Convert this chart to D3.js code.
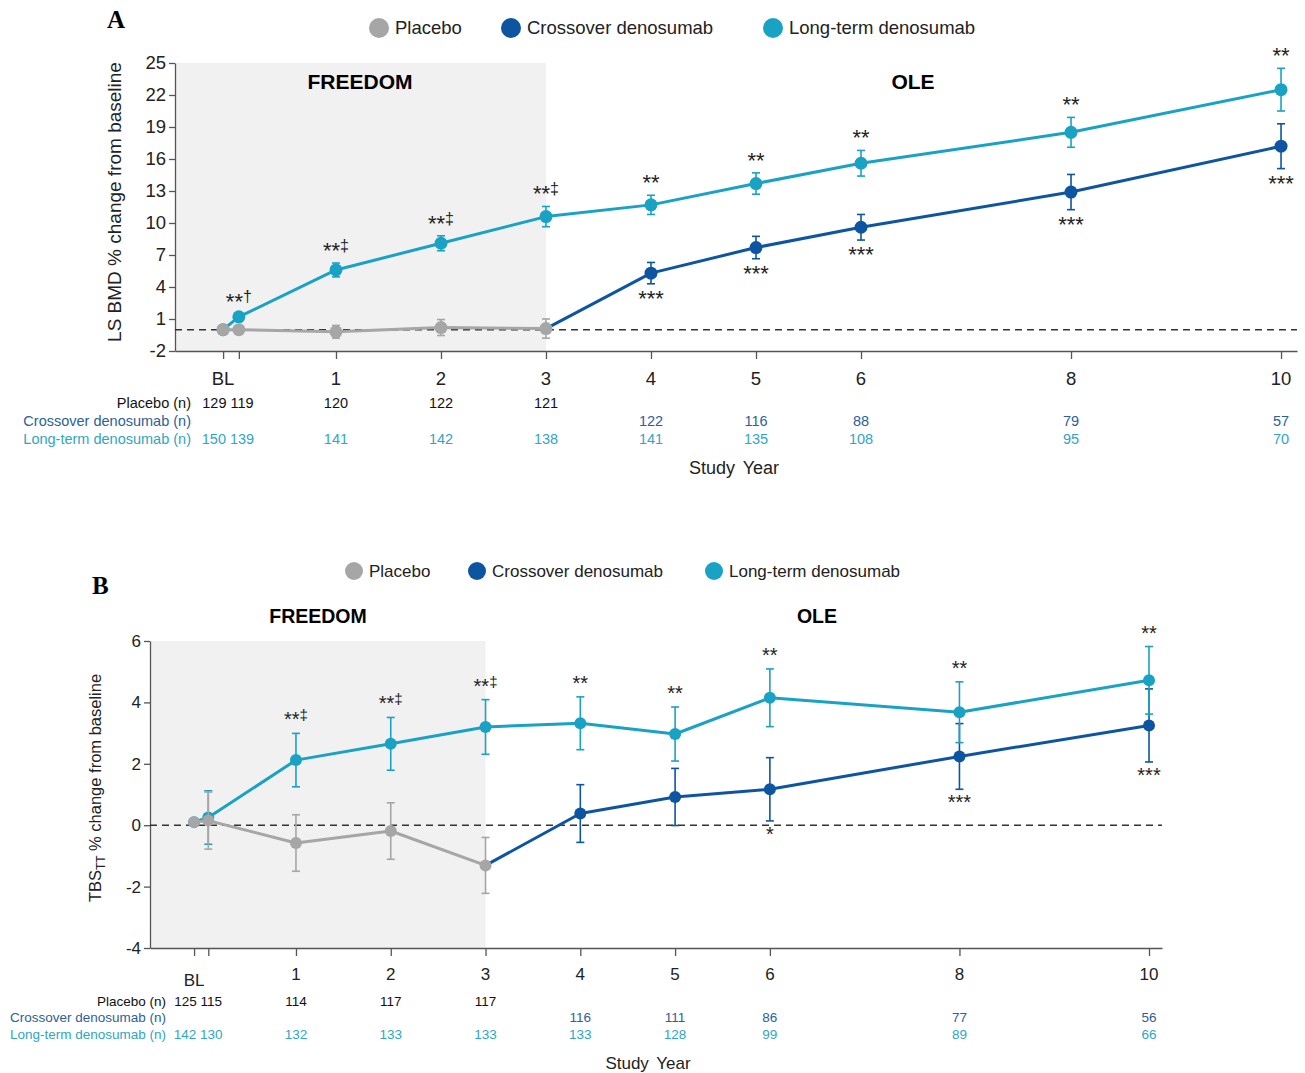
<!DOCTYPE html>
<html><head><meta charset="utf-8">
<script src="https://cdn.jsdelivr.net/npm/d3@7"></script>
<style>body{margin:0;background:#fff;} svg{display:block;font-family:"Liberation Sans",Arial,sans-serif;}</style>
</head><body><svg id="c" width="1305" height="1073"></svg>
<script>
// ---------- shared ----------
const seriesNames = ["Placebo", "Crossover denosumab", "Long-term denosumab"];
const studyYear = [-0.075, 0.075, 1, 2, 3, 4, 5, 6, 8, 10];
const tickLabels = ["BL", "", "1", "2", "3", "4", "5", "6", "8", "10"];
const rowLabels = ["Placebo (n)", "Crossover denosumab (n)", "Long-term denosumab (n)"];

// ---------- Panel A: LS BMD ----------
const yTicksA = [-2, 1, 4, 7, 10, 13, 16, 19, 22, 25];
const placeboMeanA = [0, 0, -0.2, 0.2, 0.1, null, null, null, null, null];
const placeboErrA  = [0, 0.2, 0.6, 0.75, 0.9, null, null, null, null, null];
const crossMeanA   = [null, null, null, null, null, 5.3, 7.7, 9.6, 12.9, 17.2];
const crossErrA    = [null, null, null, null, null, 1.0, 1.05, 1.2, 1.65, 2.1];
const longMeanA    = [0, 1.2, 5.6, 8.1, 10.6, 11.7, 13.7, 15.6, 18.5, 22.5];
const longErrA     = [0, 0.3, 0.65, 0.7, 0.95, 0.9, 1.0, 1.2, 1.4, 2.0];
const longSigA     = ["", "**†", "**‡", "**‡", "**‡", "**", "**", "**", "**", "**"];
const crossSigA    = ["", "", "", "", "", "***", "***", "***", "***", "***"];
const placeboNA    = ["129 119", "", "120", "122", "121", "", "", "", "", ""];
const crossNA      = ["", "", "", "", "", "122", "116", "88", "79", "57"];
const longNA       = ["150 139", "", "141", "142", "138", "141", "135", "108", "95", "70"];

// ---------- Panel B: TBS ----------
const yTicksB = [-4, -2, 0, 2, 4, 6];
const placeboMeanB = [0.1, 0.15, -0.58, -0.19, -1.31, null, null, null, null, null];
const placeboErrB  = [0, 0.93, 0.92, 0.92, 0.91, null, null, null, null, null];
const crossMeanB   = [null, null, null, null, null, 0.38, 0.92, 1.17, 2.24, 3.25];
const crossErrB    = [null, null, null, null, null, 0.94, 0.93, 1.03, 1.07, 1.19];
const longMeanB    = [0.1, 0.25, 2.12, 2.65, 3.2, 3.32, 2.97, 4.15, 3.68, 4.72];
const longErrB     = [0, 0.87, 0.87, 0.86, 0.89, 0.86, 0.88, 0.94, 0.99, 1.1];
const longSigB     = ["", "", "**‡", "**‡", "**‡", "**", "**", "**", "**", "**"];
const crossSigB    = ["", "", "", "", "", "", "", "*", "***", "***"];
const placeboNB    = ["125 115", "", "114", "117", "117", "", "", "", "", ""];
const crossNB      = ["", "", "", "", "", "116", "111", "86", "77", "56"];
const longNB       = ["142 130", "", "132", "133", "133", "133", "128", "99", "89", "66"];

const C = {placebo: "#a6a6a6", cross: "#0e55a1", long: "#1aa2c4",
           crossText: "#2d5f98", longText: "#2fa6c2", axis: "#555", shade: "#f1f1f1"};

const svg = d3.select("#c");

function drawPanel(p) {
  const g = svg.append("g");
  const x = d3.scaleLinear().domain(p.xDomain).range([p.left, p.right]);
  const y = d3.scaleLinear().domain(p.yDomain).range([p.bottom, p.top]);

  g.append("rect").attr("x", p.left).attr("y", p.top)
    .attr("width", x(3) - p.left).attr("height", p.bottom - p.top).attr("fill", C.shade);

  g.append("text").attr("x", p.letterX).attr("y", p.letterY).text(p.letter)
    .attr("font-family", "Liberation Serif, Times New Roman, serif").attr("font-weight", "bold")
    .attr("font-size", p.letterSize);

  const legCols = [C.placebo, C.cross, C.long];
  seriesNames.forEach((n, i) => {
    g.append("circle").attr("cx", p.legendX[i]).attr("cy", p.legendY).attr("r", p.legendR).attr("fill", legCols[i]);
    g.append("text").attr("x", p.legendX[i] + p.legendR + 6).attr("y", p.legendY + p.legendFs * 0.35)
      .attr("font-size", p.legendFs).attr("fill", "#222").text(n);
  });

  g.append("text").attr("x", p.freedomX).attr("y", p.sectionY).attr("text-anchor", "middle")
    .attr("font-weight", "bold").attr("font-size", p.sectionFs).text("FREEDOM");
  g.append("text").attr("x", p.oleX).attr("y", p.sectionY).attr("text-anchor", "middle")
    .attr("font-weight", "bold").attr("font-size", p.sectionFs).text("OLE");

  const yAxis = d3.axisLeft(y).tickValues(p.yTicks).tickSize(6).tickSizeOuter(0).tickFormat(d => String(d));
  const ya = g.append("g").attr("transform", `translate(${p.left},0)`).call(yAxis);
  ya.select(".domain").attr("stroke", C.axis).attr("stroke-width", 1.3);
  ya.selectAll(".tick line").attr("stroke", C.axis).attr("stroke-width", 1.3);
  ya.selectAll(".tick text").attr("font-size", p.tickFs).attr("fill", "#222")
    .attr("font-family", "Liberation Sans, Arial, sans-serif").attr("x", -9);

  const xAxis = d3.axisBottom(x).tickValues(studyYear).tickSize(8).tickSizeOuter(0).tickFormat("");
  const xa = g.append("g").attr("transform", `translate(0,${p.bottom})`).call(xAxis);
  xa.select(".domain").attr("stroke", C.axis).attr("stroke-width", 1.3);
  xa.selectAll(".tick line").attr("stroke", C.axis).attr("stroke-width", 1.3);
  studyYear.forEach((v, i) => {
    if (!tickLabels[i]) return;
    g.append("text").attr("x", x(v)).attr("y", tickLabels[i] === "BL" ? p.blLabelY : p.tickLabelY)
      .attr("text-anchor", "middle").attr("font-size", p.xTickFs).attr("fill", "#222").text(tickLabels[i]);
  });

  g.append("line").attr("x1", p.left).attr("x2", p.right).attr("y1", y(0)).attr("y2", y(0))
    .attr("stroke", "#333").attr("stroke-width", 1.5).attr("stroke-dasharray", "7,5");

  const line = d3.line().x(d => x(d.x)).y(d => y(d.m));
  function pts(mean, err) {
    return mean.map((m, i) => m == null ? null : {x: studyYear[i], m, e: err[i], i}).filter(d => d);
  }
  function series(points, color, linePts) {
    g.append("path").attr("d", line(linePts)).attr("fill", "none").attr("stroke", color)
      .attr("stroke-width", p.lineW).attr("stroke-linejoin", "round");
    points.forEach(d => {
      if (!d.e) return;
      const xx = x(d.x), y1 = y(d.m + d.e), y2 = y(d.m - d.e);
      g.append("line").attr("x1", xx).attr("x2", xx).attr("y1", y1).attr("y2", y2).attr("stroke", color).attr("stroke-width", 1.6);
      [y1, y2].forEach(yy => g.append("line").attr("x1", xx - p.cap).attr("x2", xx + p.cap)
        .attr("y1", yy).attr("y2", yy).attr("stroke", color).attr("stroke-width", 1.6));
    });
    points.forEach(d => g.append("circle").attr("cx", x(d.x)).attr("cy", y(d.m)).attr("r", p.dotR).attr("fill", color));
  }

  const pl = pts(p.placeboMean, p.placeboErr);
  const cr = pts(p.crossMean, p.crossErr);
  const lo = pts(p.longMean, p.longErr);
  const plLast = pl[pl.length - 1];

  series(cr, C.cross, [plLast].concat(cr));
  series(lo, C.long, lo);
  series(pl, C.placebo, pl);

  function sigText(xx, yy, s) {
    const stars = s.replace(/[^*]/g, ""), rest = s.replace(/\*/g, "");
    const t = g.append("text").attr("x", xx).attr("y", yy).attr("text-anchor", "middle").attr("fill", "#222");
    t.append("tspan").attr("font-size", p.starFs).text(stars);
    if (rest) t.append("tspan").attr("font-size", p.dagFs).attr("dy", -p.dagShift).text(rest);
  }
  lo.forEach(d => { const s = p.longSig[d.i]; if (s) sigText(x(d.x), y(d.m + d.e) - p.sigAbove, s); });
  cr.forEach(d => { const s = p.crossSig[d.i]; if (s) sigText(x(d.x), y(d.m - d.e) + p.sigBelow, s); });

  const yt = g.append("text").attr("transform", `translate(${p.yTitleX},${p.yTitleY}) rotate(-90)`)
    .attr("text-anchor", "middle").attr("font-size", p.yTitleFs).attr("fill", "#222");
  if (p.yTitleSub) {
    yt.append("tspan").text(p.yTitle);
    yt.append("tspan").text(p.yTitleSub).attr("font-size", p.yTitleFs * 0.72).attr("dy", 4);
    yt.append("tspan").text(p.yTitleRest).attr("dy", -4);
  } else yt.text(p.yTitle);

  const rowsN = [p.placeboN, p.crossN, p.longN];
  const rowCol = ["#111", C.crossText, C.longText];
  rowLabels.forEach((lab, r) => {
    g.append("text").attr("x", p.nLabelX).attr("y", p.nRowY[r]).attr("text-anchor", "end")
      .attr("font-size", p.nFs).attr("fill", rowCol[r]).text(lab);
    rowsN[r].forEach((v, i) => {
      if (!v) return;
      const xx = i === 0 ? x(0) - 3 : x(studyYear[i]);
      g.append("text").attr("x", xx).attr("y", p.nRowY[r]).attr("text-anchor", "middle")
        .attr("font-size", p.nFs).attr("fill", rowCol[r]).text(v);
    });
  });
  g.append("text").attr("x", p.studyX).attr("y", p.studyY).attr("text-anchor", "middle")
    .attr("font-size", p.studyFs).attr("fill", "#222").attr("word-spacing", 3).text("Study Year");
}

drawPanel({
  xDomain: [-0.533, 10.152], yDomain: [-2, 25], left: 175, right: 1297, top: 63, bottom: 351,
  yTicks: yTicksA, letter: "A", letterX: 107, letterY: 28, letterSize: 25,
  legendX: [379, 511, 773], legendY: 28, legendR: 10, legendFs: 18.5,
  freedomX: 360, oleX: 913, sectionY: 89, sectionFs: 21,
  tickFs: 18.5, xTickFs: 18.5, tickLabelY: 385, blLabelY: 385,
  lineW: 3, cap: 4, dotR: 6.5,
  placeboMean: placeboMeanA, placeboErr: placeboErrA, crossMean: crossMeanA, crossErr: crossErrA,
  longMean: longMeanA, longErr: longErrA, longSig: longSigA, crossSig: crossSigA,
  starFs: 22, dagFs: 16, dagShift: 7, sigAbove: 5, sigBelow: 22,
  yTitle: "LS BMD % change from baseline", yTitleX: 121, yTitleY: 202, yTitleFs: 19,
  placeboN: placeboNA, crossN: crossNA, longN: longNA, nLabelX: 191, nRowY: [408, 426, 444], nFs: 14.5,
  studyX: 734, studyY: 474, studyFs: 18
});

drawPanel({
  xDomain: [-0.54, 10.137], yDomain: [-4, 6], left: 150, right: 1162, top: 641, bottom: 948,
  yTicks: yTicksB, letter: "B", letterX: 92, letterY: 594, letterSize: 25,
  legendX: [354, 477, 714], legendY: 571, legendR: 9, legendFs: 17,
  freedomX: 318, oleX: 817, sectionY: 623, sectionFs: 19.5,
  tickFs: 17, xTickFs: 17, tickLabelY: 980, blLabelY: 986,
  lineW: 3, cap: 4, dotR: 6,
  placeboMean: placeboMeanB, placeboErr: placeboErrB, crossMean: crossMeanB, crossErr: crossErrB,
  longMean: longMeanB, longErr: longErrB, longSig: longSigB, crossSig: crossSigB,
  starFs: 20, dagFs: 15, dagShift: 6, sigAbove: 7, sigBelow: 20,
  yTitle: "TBS", yTitleSub: "TT", yTitleRest: " % change from baseline", yTitleX: 101, yTitleY: 788, yTitleFs: 16.5,
  placeboN: placeboNB, crossN: crossNB, longN: longNB, nLabelX: 166, nRowY: [1006, 1022, 1039], nFs: 13.5,
  studyX: 648, studyY: 1069, studyFs: 17
});
</script></body></html>
